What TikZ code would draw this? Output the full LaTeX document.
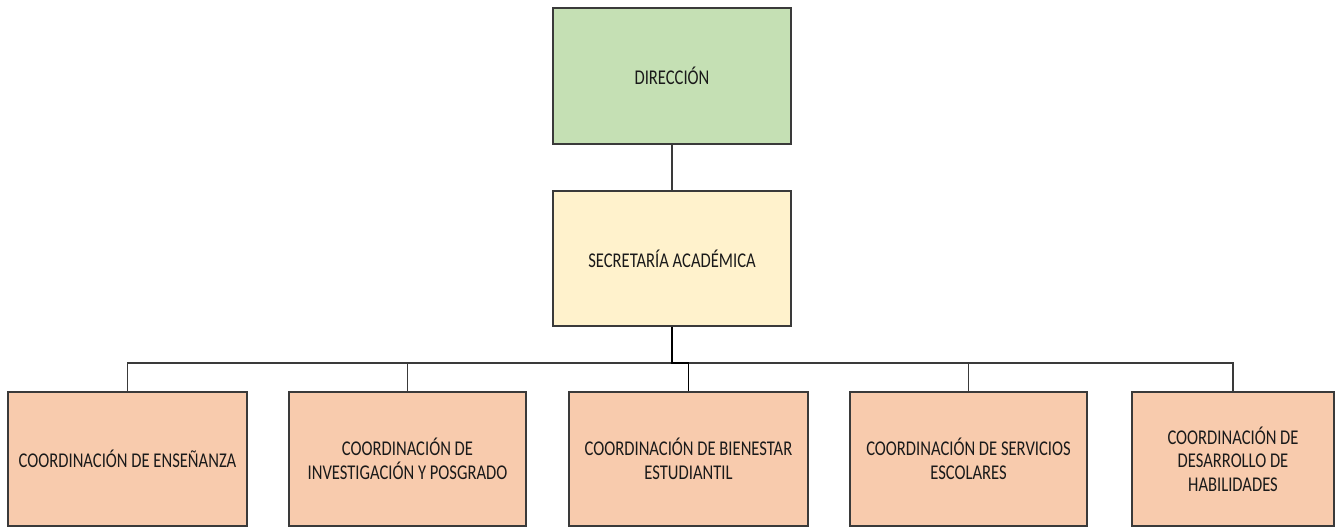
\documentclass[tikz,border=0pt]{standalone}
\usepackage{fontspec}
\newfontfamily\orgfont[FakeStretch=0.79]{Carlito}
\definecolor{dirgreen}{HTML}{C5E0B4}
\definecolor{secyellow}{HTML}{FFF2CC}
\definecolor{coordorange}{HTML}{F8CBAD}
\definecolor{edge}{HTML}{3A3A3A}
\definecolor{txt}{HTML}{1A1A1A}
\begin{document}
\begin{tikzpicture}[x=1pt,y=1pt,
  orgbox/.style={draw=edge,line width=1.4pt,rectangle,inner sep=0pt,
    align=center,text=txt,font=\orgfont\fontsize{21}{23.5}\selectfont},
  topbox/.style={orgbox,fill=dirgreen,minimum width=238pt,minimum height=136pt},
  secbox/.style={orgbox,fill=secyellow,minimum width=238pt,minimum height=135pt},
  coordbox/.style={orgbox,fill=coordorange,minimum height=134pt},
  conn/.style={draw=edge,line width=1.1pt},
  mainconn/.style={draw=black,line width=1.8pt}]
\useasboundingbox (0,0) rectangle (1338,527);
\node[topbox] (dir) at (672,451) {DIRECCIÓN};
\node[secbox] (sec) at (672,268.5) {SECRETARÍA ACADÉMICA};
\node[coordbox,minimum width=239pt] (c1) at (127.5,68) {COORDINACIÓN DE ENSEÑANZA};
\node[coordbox,minimum width=237pt] (c2) at (407.5,68) {COORDINACIÓN DE\\INVESTIGACIÓN Y POSGRADO};
\node[coordbox,minimum width=239pt] (c3) at (688.5,68) {COORDINACIÓN DE BIENESTAR\\ESTUDIANTIL};
\node[coordbox,minimum width=237pt] (c4) at (968.5,68) {COORDINACIÓN DE SERVICIOS\\ESCOLARES};
\node[coordbox,minimum width=202pt] (c5) at (1233,68) {COORDINACIÓN DE\\DESARROLLO DE\\HABILIDADES};
\coordinate (bus) at (672,164);
\draw[conn] (dir.south) -- (sec.north);
\draw[conn] (bus) -| (c1.north);
\draw[conn] (bus) -| (c2.north);
\draw[conn] (bus) -| (c4.north);
\draw[conn] (bus) -| (c5.north);
\draw[mainconn] (sec.south) -- (bus) -| (c3.north);
\end{tikzpicture}
\end{document}
